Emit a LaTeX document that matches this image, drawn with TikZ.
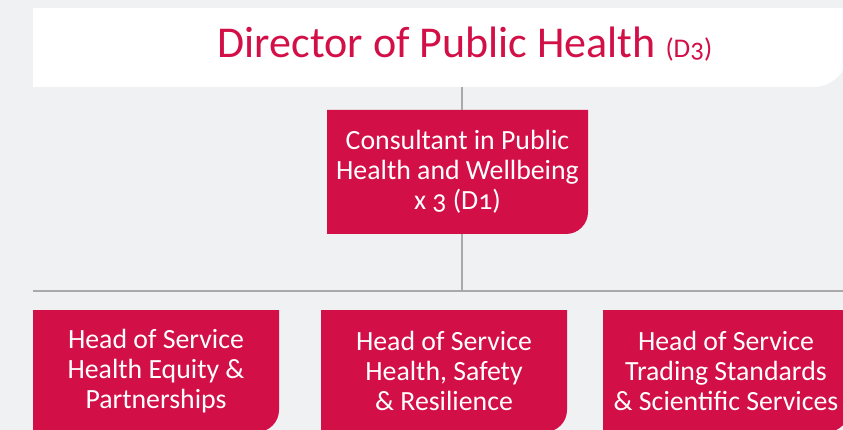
\documentclass[tikz,border=0pt]{standalone}
\usepackage{fontspec}
\setmainfont{Carlito}[Numbers=OldStyle]
\usetikzlibrary{positioning}
\definecolor{phred}{HTML}{D20F46}
\definecolor{phgrey}{HTML}{F0F1F3}
\definecolor{phline}{HTML}{A9A9A9}

\begin{document}
\begin{tikzpicture}
    [x=1pt,y=1pt,
     tabfill/.style 2 args={path picture={\fill[#1] (path picture bounding box.north west)
         -- (path picture bounding box.north east)
         -- ([yshift=#2]path picture bounding box.south east)
         arc[start angle=0,end angle=-90,radius=#2]
         -- (path picture bounding box.south west) -- cycle;}},
     role/.style={rectangle,inner sep=0pt,outer sep=0pt,text=white,align=center,
       font=\fontsize{27.8}{30}\selectfont,minimum width=246pt,minimum height=122pt,
       tabfill={phred}{22pt}},
     banner/.style={rectangle,inner sep=0pt,outer sep=0pt,minimum width=815pt,
       minimum height=79pt,tabfill={white}{35pt}},
     heading/.style={text=phred,inner sep=0pt,font=\fontsize{44}{44}\selectfont},
     link/.style={draw=phline,line width=1.8pt}]

    \useasboundingbox (0,0) rectangle (843,-430);
    \clip (0,0) rectangle (843,-430);
    \fill[phgrey] (0,0) rectangle (843,-430);

    \node[banner] (top) at (440.5,-47.5) {};
    \node[heading,anchor=base] (director) at (465,-58)
      {Director of Public Health {\fontsize{27}{27}\selectfont(D3)}};

    \coordinate (spine) at (462,-87);
    \coordinate (barleft) at (33,-291);
    \coordinate (barright) at (848,-291);

    \node[role,minimum width=261pt,minimum height=124pt] (consult) at (457.5,-172)
      {Consultant in Public\\Health and Wellbeing\\x 3 (D1)};

    \draw[link] (spine) -- (spine |- consult.north);
    \draw[link] (spine |- consult.south) -- (spine |- barleft);
    \draw[link] (barleft) -- (barright);

    \node[role] (equity) at (156,-371)
      {Head of Service\\Health Equity \&\\Partnerships};
    \node[role] (safety) [right=42pt of equity]
      {Head of Service\\Health, Safety\\\& Resilience};
    \node[role] (trading) [right=36pt of safety]
      {Head of Service\\Trading Standards\\\& Scientific Services};
\end{tikzpicture}
\end{document}
